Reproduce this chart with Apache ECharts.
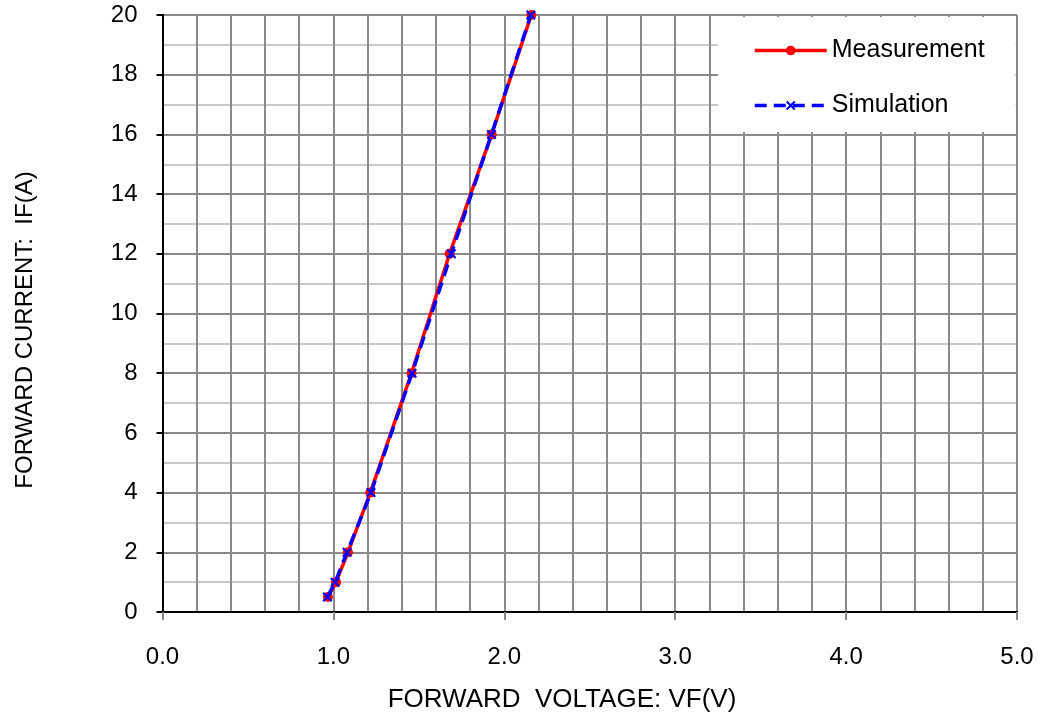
<!DOCTYPE html>
<html>
<head>
<meta charset="utf-8">
<script src="https://cdn.jsdelivr.net/npm/echarts@6/dist/echarts.min.js"></script>
<style>
html,body{margin:0;padding:0;background:#fff;}
#chart{width:1043px;height:717px;}
</style>
</head>
<body>
<div id="chart"></div>
<script>
const currentA = [0.5, 1, 2, 4, 8, 12, 16, 20];
const measVoltage = [0.968, 1.015, 1.085, 1.216, 1.457, 1.68, 1.926, 2.158];
const simVoltage = [0.965, 1.01, 1.08, 1.22, 1.46, 1.69, 1.925, 2.155];
const seriesNames = ['Measurement', 'Simulation'];
const xTitle = 'FORWARD  VOLTAGE: VF(V)';
const yTitle = 'FORWARD CURRENT:  IF(A)';

const FONT = '"Liberation Sans", Arial, sans-serif';
const chart = echarts.init(document.getElementById('chart'), null, {renderer: 'canvas'});
const xMarker = 'path://M1.5,0 L5,3.5 L8.5,0 L10,1.5 L6.5,5 L10,8.5 L8.5,10 L5,6.5 L1.5,10 L0,8.5 L3.5,5 L0,1.5 Z';

chart.setOption({
  animation: false,
  backgroundColor: '#fff',
  textStyle: {fontFamily: FONT},
  grid: {left: 162.5, right: 26, top: 15, bottom: 105, containLabel: false},
  legend: {
    orient: 'vertical',
    left: 718, top: 17,
    backgroundColor: '#fff',
    padding: [21, 31, 14, 35],
    itemWidth: 72, itemHeight: 12,
    itemGap: 30,
    lineStyle: {width: 3.5},
    textStyle: {fontSize: 25, color: '#000', fontFamily: FONT},
    data: seriesNames
  },
  xAxis: [{
    type: 'value', min: 0, max: 5, interval: 1, position: 'bottom',
    axisLine: {show: true, lineStyle: {color: '#888', width: 2}},
    axisTick: {show: true, length: 8, lineStyle: {color: '#888', width: 2}},
    axisLabel: {fontSize: 24, color: '#000', margin: 33, fontFamily: FONT, formatter: v => v.toFixed(1)},
    splitLine: {show: true, lineStyle: {color: '#8a8a8a', width: 2}},
    minorTick: {show: false, splitNumber: 5},
    minorSplitLine: {show: true, lineStyle: {color: '#8a8a8a', width: 2}}
  }, {
    type: 'value', min: 0, max: 5, position: 'top',
    axisLine: {show: true, lineStyle: {color: '#000', width: 2}},
    axisTick: {show: false}, axisLabel: {show: false}, splitLine: {show: false}
  }],
  yAxis: [{
    type: 'value', min: 0, max: 20, interval: 2, position: 'left',
    axisLine: {show: true, lineStyle: {color: '#000', width: 2}},
    axisTick: {show: true, length: 6, lineStyle: {color: '#000', width: 2}},
    axisLabel: {fontSize: 24, color: '#000', margin: 25, fontFamily: FONT},
    splitLine: {show: true, lineStyle: {color: '#8a8a8a', width: 2}},
    minorTick: {show: false, splitNumber: 2},
    minorSplitLine: {show: true, lineStyle: {color: '#c8c8c8', width: 2}}
  }, {
    type: 'value', min: 0, max: 20, position: 'right',
    axisLine: {show: true, lineStyle: {color: '#000', width: 2}},
    axisTick: {show: false}, axisLabel: {show: false}, splitLine: {show: false}
  }],
  graphic: [
    {type: 'text', x: 562, y: 700, style: {text: xTitle, fontSize: 26, fill: '#000', fontFamily: FONT, align: 'center', verticalAlign: 'middle'}},
    {type: 'text', rotation: Math.PI / 2, x: 25, y: 330, style: {text: yTitle, fontSize: 24, fill: '#000', fontFamily: FONT, align: 'center', verticalAlign: 'middle'}}
  ],
  series: [{
    name: seriesNames[0], type: 'line',
    data: measVoltage.map((v, i) => [v, currentA[i]]),
    symbol: 'circle', symbolSize: 10,
    itemStyle: {color: '#ff0000'},
    lineStyle: {color: '#ff0000', width: 3.5},
    z: 2
  }, {
    name: seriesNames[1], type: 'line',
    data: simVoltage.map((v, i) => [v, currentA[i]]),
    symbol: xMarker, symbolSize: 10,
    itemStyle: {color: '#0000ff'},
    lineStyle: {color: '#0000ff', width: 3.5, type: [12, 7]},
    z: 3
  }]
});
</script>
</body>
</html>
